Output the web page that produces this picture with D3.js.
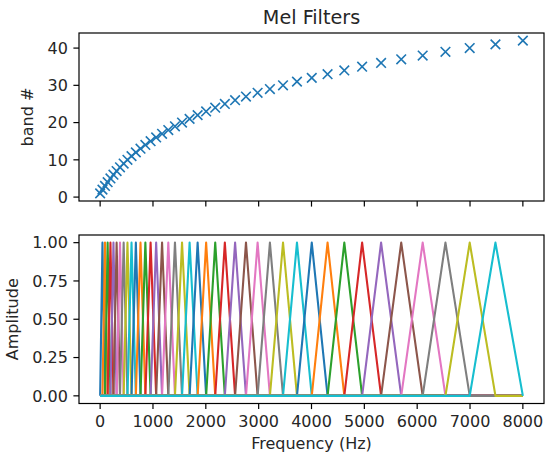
<!DOCTYPE html>
<meta charset="utf-8">
<style>
  body { margin: 0; background: #fff; }
  text { font-family: "DejaVu Sans", sans-serif; fill: #262626; }
</style>
<body>
<script src="https://cdn.jsdelivr.net/npm/d3@7"></script>
<script>

// band numbers and their edge frequencies (Hz)
var bandNumbers = [1, 2, 3, 4, 5, 6, 7, 8, 9, 10, 11, 12, 13, 14, 15, 16, 17, 18, 19, 20, 21,
  22, 23, 24, 25, 26, 27, 28, 29, 30, 31, 32, 33, 34, 35, 36, 37, 38, 39, 40, 41, 42];
var edgeFreqs = [0, 44, 92, 142, 195, 252, 312, 376, 445, 517, 594, 676, 764, 856, 955, 1060,
  1172, 1290, 1416, 1550, 1693, 1845, 2006, 2178, 2360, 2554, 2760, 2980, 3213, 3461, 3725,
  4005, 4304, 4621, 4958, 5317, 5698, 6104, 6535, 6994, 7481, 8000];

var freqTicks = [0, 1000, 2000, 3000, 4000, 5000, 6000, 7000, 8000];
var bandTicks = [0, 10, 20, 30, 40];
var ampTicks = [0, 0.25, 0.5, 0.75, 1];

var width = 546,
  height = 454;

var left = 79, right = 544;
var top1 = 33, bot1 = 201;
var top2 = 235, bot2 = 403.5;
var tickLen = 5.6, tickPad = 5.6, fontSize = 16;

var colors = d3.schemeCategory10;

var svg = d3.select("body").append("svg")
  .attr("width", width)
  .attr("height", height)

var x = d3.scaleLinear().domain([-400, 8400]).range([left, right]);
var yBand = d3.scaleLinear().domain([1 - 2.05, 42 + 2.05]).range([bot1, top1]);
var yAmp = d3.scaleLinear().domain([-0.05, 1.05]).range([bot2, top2]);

svg.append("defs").selectAll("clipPath")
  .data([[top1, bot1, "clip1"], [top2, bot2, "clip2"]])
  .enter().append("clipPath")
  .attr("id", function(d) { return d[2]; })
  .append("rect")
  .attr("x", left).attr("y", function(d) { return d[0]; })
  .attr("width", right - left).attr("height", function(d) { return d[1] - d[0]; })

// top: band number vs frequency
var g1 = svg.append("g").attr("clip-path", "url(#clip1)");
var pts = edgeFreqs.map(function(f, i) { return {f: f, b: bandNumbers[i]}; });
var ms = 4.8;
g1.selectAll(".mark").data(pts)
  .enter().append("path")
  .attr("class", "mark")
  .attr("d", function(d) {
    var cx = x(d.f), cy = yBand(d.b);
    return "M" + (cx - ms) + "," + (cy - ms) + "L" + (cx + ms) + "," + (cy + ms) +
      "M" + (cx - ms) + "," + (cy + ms) + "L" + (cx + ms) + "," + (cy - ms);
  })
  .attr("stroke", colors[0])
  .attr("stroke-width", 1.6)
  .attr("fill", "none")

// bottom: triangular filters
var filters = d3.range(edgeFreqs.length - 2).map(function(i) {
  return [[edgeFreqs[0], 0], [edgeFreqs[i], 0], [edgeFreqs[i + 1], 1],
    [edgeFreqs[i + 2], 0], [edgeFreqs[edgeFreqs.length - 1], 0]];
});
var line = d3.line()
  .x(function(d) { return x(d[0]); })
  .y(function(d) { return yAmp(d[1]); });

var g2 = svg.append("g").attr("clip-path", "url(#clip2)");
g2.selectAll(".filt").data(filters)
  .enter().append("path")
  .attr("class", "filt")
  .attr("d", line)
  .attr("fill", "none")
  .attr("stroke", function(d, i) { return colors[i % 10]; })
  .attr("stroke-width", 2.1)
  .attr("stroke-linejoin", "round")

// frames
function frame(t, b) {
  svg.append("rect")
    .attr("x", left).attr("y", t)
    .attr("width", right - left).attr("height", b - t)
    .attr("fill", "none").attr("stroke", "#000").attr("stroke-width", 1.2)
}
frame(top1, bot1);
frame(top2, bot2);

// x ticks
function xTicks(b, labels) {
  var t = svg.append("g").selectAll("g").data(freqTicks).enter().append("g")
    .attr("transform", function(d) { return "translate(" + x(d) + "," + b + ")"; });
  t.append("line").attr("y2", tickLen).attr("stroke", "#000").attr("stroke-width", 1.2);
  if (labels) {
    t.append("text")
      .attr("y", tickLen + tickPad + 12.5)
      .attr("text-anchor", "middle")
      .style("font-size", fontSize + "px")
      .text(function(d) { return d; });
  }
}
xTicks(bot1, false);
xTicks(bot2, true);

// y ticks
function yTicks(scale, ticks, fmt) {
  var t = svg.append("g").selectAll("g").data(ticks).enter().append("g")
    .attr("transform", function(d) { return "translate(" + left + "," + scale(d) + ")"; });
  t.append("line").attr("x2", -tickLen).attr("stroke", "#000").attr("stroke-width", 1.2);
  t.append("text")
    .attr("x", -tickLen - tickPad)
    .attr("dy", "0.36em")
    .attr("text-anchor", "end")
    .style("font-size", fontSize + "px")
    .text(fmt);
}
yTicks(yBand, bandTicks, function(d) { return d; });
yTicks(yAmp, ampTicks, d3.format(".2f"));

// labels
svg.append("text")
  .attr("x", (left + right) / 2).attr("y", 24)
  .attr("text-anchor", "middle")
  .style("font-size", "19.2px")
  .text("Mel Filters");

svg.append("text")
  .attr("x", (left + right) / 2).attr("y", 449)
  .attr("text-anchor", "middle")
  .style("font-size", fontSize + "px")
  .text("Frequency (Hz)");

svg.append("text")
  .attr("transform", "translate(33," + (top1 + bot1) / 2 + ") rotate(-90)")
  .attr("text-anchor", "middle")
  .style("font-size", fontSize + "px")
  .text("band #");

svg.append("text")
  .attr("transform", "translate(18," + (top2 + bot2) / 2 + ") rotate(-90)")
  .attr("text-anchor", "middle")
  .style("font-size", fontSize + "px")
  .text("Amplitude");

</script>
</body>
